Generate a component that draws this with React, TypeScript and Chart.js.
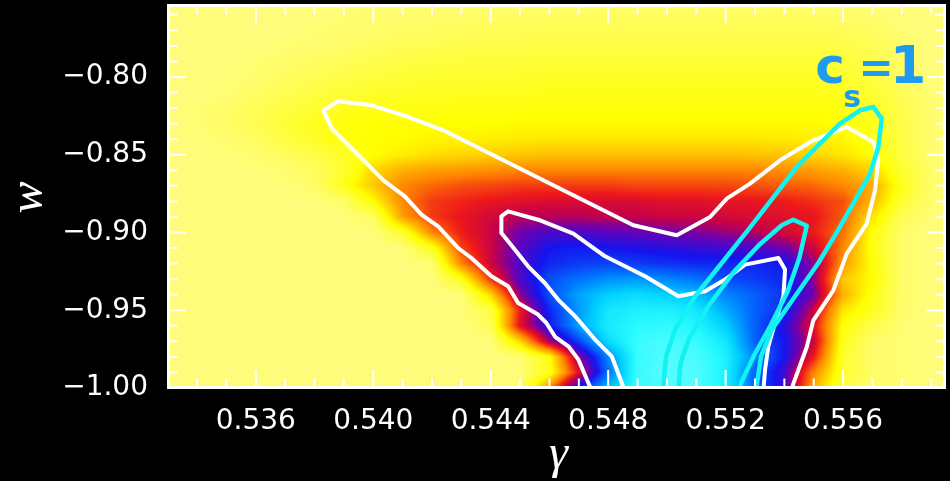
import React, { useEffect, useRef } from "react";
import { Chart, registerables } from "chart.js";

Chart.register(...registerables);

// ---------- axes ----------
const GAMMA_MIN = 0.53301;
const GAMMA_MAX = 0.55947;
const W_MIN = -1.0;
const W_MAX = -0.7537;
const GAMMA_TICKS = [0.536, 0.54, 0.544, 0.548, 0.552, 0.556];
const W_TICKS = [-1.0, -0.95, -0.9, -0.85, -0.8];
const GAMMA_MINOR_STEP = 0.001;
const W_MINOR_STEP = 0.01;

// ---------- density map (grid) ----------
const GRID_GAMMA = [
  0.533, 0.534, 0.535, 0.536, 0.537, 0.538, 0.539, 0.54, 0.541, 0.542, 0.543, 0.544, 0.545, 0.546,
  0.547, 0.548, 0.549, 0.55, 0.551, 0.552, 0.553, 0.554, 0.555, 0.556, 0.557, 0.558, 0.559, 0.56,
];
const GRID_W = [
  -0.75, -0.76, -0.77, -0.78, -0.79, -0.8, -0.81, -0.82, -0.83, -0.84, -0.85, -0.86, -0.87,
  -0.88, -0.89, -0.9, -0.91, -0.92, -0.93, -0.94, -0.95, -0.96, -0.97, -0.98, -0.99, -1.0,
];
const DENSITY = [
  [0.02,0.02,0.02,0.02,0.02,0.02,0.02,0.03,0.03,0.03,0.03,0.03,0.03,0.04,0.04,0.04,0.04,0.04,0.04,0.04,0.04,0.04,0.04,0.03,0.03,0.02,0.02,0.02],
  [0.02,0.02,0.02,0.02,0.02,0.02,0.03,0.035,0.035,0.04,0.04,0.045,0.045,0.05,0.05,0.05,0.05,0.05,0.05,0.05,0.05,0.05,0.05,0.04,0.035,0.025,0.02,0.02],
  [0.02,0.02,0.02,0.02,0.02,0.03,0.035,0.04,0.045,0.05,0.055,0.06,0.06,0.065,0.065,0.065,0.065,0.065,0.065,0.065,0.065,0.065,0.065,0.06,0.05,0.03,0.02,0.02],
  [0.02,0.02,0.02,0.02,0.03,0.035,0.04,0.05,0.06,0.065,0.07,0.075,0.075,0.08,0.08,0.08,0.08,0.08,0.08,0.08,0.08,0.08,0.08,0.075,0.06,0.04,0.02,0.02],
  [0.02,0.02,0.02,0.03,0.04,0.05,0.06,0.07,0.08,0.085,0.09,0.09,0.09,0.095,0.095,0.095,0.095,0.095,0.095,0.095,0.095,0.095,0.095,0.09,0.07,0.04,0.02,0.02],
  [0.02,0.02,0.025,0.035,0.05,0.06,0.075,0.085,0.095,0.1,0.1,0.1,0.105,0.11,0.11,0.11,0.11,0.11,0.11,0.11,0.11,0.11,0.11,0.1,0.08,0.05,0.025,0.02],
  [0.02,0.02,0.03,0.045,0.06,0.08,0.095,0.105,0.11,0.115,0.115,0.12,0.12,0.125,0.125,0.125,0.125,0.125,0.125,0.125,0.125,0.125,0.125,0.12,0.1,0.06,0.03,0.02],
  [0.02,0.03,0.04,0.06,0.08,0.1,0.12,0.13,0.13,0.13,0.135,0.135,0.135,0.14,0.14,0.14,0.14,0.14,0.14,0.14,0.14,0.14,0.14,0.135,0.11,0.07,0.035,0.02],
  [0.02,0.03,0.045,0.065,0.09,0.115,0.135,0.145,0.15,0.15,0.15,0.15,0.155,0.155,0.155,0.155,0.155,0.155,0.155,0.155,0.155,0.155,0.155,0.15,0.12,0.075,0.035,0.02],
  [0.02,0.025,0.035,0.05,0.08,0.11,0.14,0.15,0.155,0.16,0.165,0.17,0.175,0.18,0.18,0.18,0.18,0.18,0.18,0.18,0.18,0.175,0.17,0.16,0.13,0.08,0.035,0.02],
  [0.02,0.02,0.025,0.035,0.05,0.075,0.11,0.15,0.17,0.19,0.2,0.21,0.22,0.23,0.23,0.23,0.23,0.23,0.23,0.23,0.225,0.22,0.2,0.18,0.15,0.08,0.035,0.02],
  [0.02,0.02,0.02,0.025,0.035,0.05,0.1,0.2,0.25,0.27,0.28,0.29,0.3,0.3,0.3,0.3,0.3,0.3,0.3,0.3,0.3,0.29,0.27,0.25,0.2,0.1,0.04,0.02],
  [0.02,0.02,0.02,0.02,0.025,0.04,0.12,0.22,0.3,0.33,0.35,0.36,0.37,0.37,0.37,0.37,0.36,0.36,0.36,0.36,0.35,0.34,0.33,0.3,0.26,0.12,0.04,0.02],
  [0.02,0.02,0.02,0.02,0.02,0.02,0.04,0.15,0.3,0.37,0.39,0.41,0.42,0.43,0.43,0.43,0.43,0.42,0.42,0.41,0.41,0.4,0.38,0.35,0.24,0.1,0.035,0.02],
  [0.02,0.02,0.02,0.02,0.02,0.02,0.02,0.05,0.27,0.37,0.41,0.44,0.47,0.47,0.47,0.46,0.46,0.45,0.45,0.44,0.43,0.42,0.41,0.34,0.18,0.06,0.025,0.02],
  [0.02,0.02,0.02,0.02,0.02,0.02,0.02,0.02,0.1,0.3,0.4,0.45,0.52,0.55,0.55,0.54,0.53,0.52,0.51,0.49,0.47,0.44,0.4,0.32,0.14,0.04,0.02,0.02],
  [0.02,0.02,0.02,0.02,0.02,0.02,0.02,0.02,0.02,0.12,0.36,0.45,0.54,0.6,0.61,0.6,0.59,0.58,0.57,0.56,0.55,0.52,0.45,0.3,0.13,0.04,0.02,0.02],
  [0.02,0.02,0.02,0.02,0.02,0.02,0.02,0.02,0.02,0.03,0.3,0.45,0.55,0.62,0.64,0.65,0.64,0.63,0.62,0.62,0.62,0.6,0.5,0.28,0.14,0.04,0.02,0.02],
  [0.02,0.02,0.02,0.02,0.02,0.02,0.02,0.02,0.02,0.02,0.12,0.38,0.55,0.66,0.7,0.73,0.74,0.72,0.7,0.66,0.64,0.62,0.5,0.22,0.15,0.04,0.02,0.02],
  [0.02,0.02,0.02,0.02,0.02,0.02,0.02,0.02,0.02,0.02,0.02,0.2,0.5,0.66,0.75,0.8,0.82,0.8,0.78,0.72,0.68,0.63,0.52,0.25,0.13,0.04,0.02,0.02],
  [0.02,0.02,0.02,0.02,0.02,0.02,0.02,0.02,0.02,0.02,0.02,0.08,0.4,0.62,0.74,0.84,0.86,0.86,0.84,0.76,0.68,0.62,0.45,0.18,0.12,0.04,0.02,0.02],
  [0.02,0.02,0.02,0.02,0.02,0.02,0.02,0.02,0.02,0.02,0.02,0.06,0.42,0.6,0.75,0.85,0.88,0.89,0.87,0.8,0.68,0.58,0.42,0.14,0.07,0.03,0.02,0.02],
  [0.02,0.02,0.02,0.02,0.02,0.02,0.02,0.02,0.02,0.02,0.02,0.02,0.2,0.48,0.65,0.82,0.9,0.92,0.9,0.84,0.68,0.6,0.45,0.12,0.04,0.03,0.02,0.02],
  [0.02,0.02,0.02,0.02,0.02,0.02,0.02,0.02,0.02,0.02,0.02,0.02,0.03,0.14,0.5,0.72,0.9,0.93,0.92,0.86,0.72,0.6,0.4,0.1,0.04,0.03,0.02,0.02],
  [0.02,0.02,0.02,0.02,0.02,0.02,0.02,0.02,0.02,0.02,0.02,0.02,0.02,0.12,0.42,0.7,0.9,0.94,0.93,0.86,0.68,0.56,0.3,0.1,0.04,0.03,0.02,0.02],
  [0.02,0.02,0.02,0.02,0.02,0.02,0.02,0.02,0.02,0.02,0.02,0.02,0.03,0.3,0.62,0.78,0.9,0.93,0.93,0.86,0.68,0.57,0.25,0.08,0.04,0.03,0.02,0.02],
];

// colour scale (low -> high density)
const CMAP_POS = [0, 0.15, 0.3, 0.4, 0.46, 0.52, 0.6, 0.7, 0.8, 0.88, 1.0];
const CMAP_RGB = [
  [255, 252, 142], [255, 255, 0], [255, 135, 0], [238, 25, 25], [195, 0, 75], [110, 0, 175],
  [20, 20, 238], [0, 115, 255], [0, 210, 255], [40, 250, 255], [140, 255, 255],
];

// ---------- contours (gamma, w) ----------
const WHITE_OUTER: [number, number][] = [
  [0.547435,-1.0015],[0.547326,-0.99678],[0.546985,-0.98174],[0.546645,-0.97318],[0.546192,-0.96707],
  [0.545895,-0.9582],[0.545613,-0.9528],[0.544932,-0.94534],[0.544591,-0.9346],[0.544023,-0.92817],
  [0.543342,-0.9164],[0.542889,-0.90997],[0.542208,-0.89601],[0.541639,-0.88849],[0.541074,-0.87672],
  [0.540345,-0.86643],[0.53978,-0.85569],[0.539211,-0.84502],[0.538588,-0.83318],[0.538302,-0.82142],
  [0.538813,-0.81563],[0.53995,-0.8182],[0.541142,-0.82527],[0.542388,-0.83428],[0.543866,-0.84823],
  [0.545453,-0.86322],[0.547155,-0.87929],[0.548858,-0.89537],[0.550336,-0.9018],[0.55147,-0.89003],
  [0.552038,-0.8782],[0.552832,-0.86855],[0.553853,-0.85357],[0.554987,-0.84071],[0.556125,-0.83215],
  [0.55703,-0.8418],[0.557201,-0.85357],[0.557088,-0.87286],[0.556806,-0.89428],[0.556125,-0.91357],
  [0.555668,-0.93717],[0.554987,-0.95646],[0.554763,-0.97363],[0.554306,-0.99717],[0.554245,-1.0015],
];
const WHITE_INNER: [number, number][] = [
  [0.548555,-1.0015],[0.548463,-0.99678],[0.548122,-0.97961],[0.547554,-0.96887],[0.546873,-0.95389],
  [0.546294,-0.94315],[0.545841,-0.93248],[0.545272,-0.92174],[0.544819,-0.911],[0.544363,-0.90032],
  [0.544363,-0.88958],[0.544591,-0.88637],[0.545681,-0.89215],[0.546815,-0.90071],[0.547894,-0.91531],
  [0.549256,-0.92817],[0.55039,-0.94103],[0.5513,-0.93781],[0.551981,-0.93029],[0.552662,-0.92064],
  [0.553795,-0.9164],[0.554024,-0.92386],[0.553966,-0.94103],[0.553683,-0.9582],[0.553455,-0.97318],
  [0.553342,-0.98817],[0.553285,-1.0015],
];
const CYAN_OUTER: [number, number][] = [
  [0.549886,-1.0015],[0.549886,-0.99678],[0.549971,-0.97961],[0.550278,-0.96244],[0.550959,-0.94103],
  [0.551868,-0.91961],[0.552774,-0.89814],[0.553649,-0.87672],[0.554422,-0.85788],[0.555216,-0.84283],
  [0.555897,-0.82997],[0.556577,-0.82142],[0.55703,-0.81929],[0.557316,-0.82675],[0.557201,-0.84502],
  [0.556918,-0.86212],[0.556407,-0.87929],[0.555839,-0.89814],[0.555158,-0.91961],[0.554364,-0.94103],
  [0.553571,-0.96244],[0.553206,-0.97961],[0.55307,-0.99678],[0.553053,-1.0015],
];
const CYAN_INNER: [number, number][] = [
  [0.550397,-1.0015],[0.550407,-0.99678],[0.550465,-0.98392],[0.550755,-0.96804],[0.551436,-0.94662],
  [0.552287,-0.92514],[0.553138,-0.90804],[0.553921,-0.89518],[0.554306,-0.89183],[0.554763,-0.89569],
  [0.554507,-0.91659],[0.554109,-0.93801],[0.55354,-0.95949],[0.552975,-0.97878],[0.552525,-0.99678],
  [0.552474,-1.0015],
];

// annotation
const CS_LABEL_GAMMA = 0.55556;
const CS_LABEL_W = -0.80405;

function colormap(v: number): number[] {
  if (v <= CMAP_POS[0]) return CMAP_RGB[0];
  for (let k = 1; k < CMAP_POS.length; k++) {
    if (v <= CMAP_POS[k]) {
      const t = (v - CMAP_POS[k - 1]) / (CMAP_POS[k] - CMAP_POS[k - 1]);
      const a = CMAP_RGB[k - 1], b = CMAP_RGB[k];
      return [a[0] + (b[0] - a[0]) * t, a[1] + (b[1] - a[1]) * t, a[2] + (b[2] - a[2]) * t];
    }
  }
  return CMAP_RGB[CMAP_RGB.length - 1];
}

const bgPlugin = {
  id: "bg",
  beforeDraw(chart: any) {
    const { ctx, width, height } = chart;
    ctx.save();
    ctx.fillStyle = "#000";
    ctx.fillRect(0, 0, width, height);
    ctx.restore();
  },
};

const heatmapPlugin = {
  id: "heatmap",
  beforeDatasetsDraw(chart: any) {
    const { ctx, chartArea: a, scales } = chart;
    const xs = scales.x, ys = scales.y;
    const L = Math.floor(a.left), T = Math.floor(a.top);
    const W = Math.ceil(a.right) - L, H = Math.ceil(a.bottom) - T;
    const off = document.createElement("canvas");
    off.width = W; off.height = H;
    const octx = off.getContext("2d")!;
    const img = octx.createImageData(W, H);
    const nx = GRID_GAMMA.length, ny = GRID_W.length;
    const g0 = GRID_GAMMA[0], dg = GRID_GAMMA[1] - GRID_GAMMA[0];
    const w0 = GRID_W[0], dw = GRID_W[1] - GRID_W[0];
    for (let j = 0; j < H; j++) {
      const wv = ys.getValueForPixel(T + j + 0.5);
      let fy = (wv - w0) / dw;
      fy = Math.max(0, Math.min(ny - 1, fy));
      const j0 = Math.min(Math.floor(fy), ny - 2);
      const ty = fy - j0;
      for (let i = 0; i < W; i++) {
        const gv = xs.getValueForPixel(L + i + 0.5);
        let fx = (gv - g0) / dg;
        fx = Math.max(0, Math.min(nx - 1, fx));
        const i0 = Math.min(Math.floor(fx), nx - 2);
        const tx = fx - i0;
        const v =
          DENSITY[j0][i0] * (1 - tx) * (1 - ty) +
          DENSITY[j0][i0 + 1] * tx * (1 - ty) +
          DENSITY[j0 + 1][i0] * (1 - tx) * ty +
          DENSITY[j0 + 1][i0 + 1] * tx * ty;
        const c = colormap(v);
        const p = (j * W + i) * 4;
        img.data[p] = c[0];
        img.data[p + 1] = c[1];
        img.data[p + 2] = c[2];
        img.data[p + 3] = 255;
      }
    }
    octx.putImageData(img, 0, 0);
    ctx.save();
    ctx.drawImage(off, L, T, W, H);
    ctx.restore();
  },
};

const framePlugin = {
  id: "frame",
  afterDatasetsDraw(chart: any) {
    const { ctx, chartArea: a, scales } = chart;
    const xs = scales.x, ys = scales.y;
    ctx.save();
    ctx.strokeStyle = "#ffffff";
    ctx.lineWidth = 2;
    const MAJ = 18, MIN = 9.5;
    const kx0 = Math.ceil(GAMMA_MIN / GAMMA_MINOR_STEP - 1e-6);
    for (let k = kx0; k * GAMMA_MINOR_STEP <= GAMMA_MAX + 1e-9; k++) {
      const v = k * GAMMA_MINOR_STEP;
      const major = GAMMA_TICKS.some((t) => Math.abs(t - v) < 1e-7);
      const len = major ? MAJ : MIN;
      const px = xs.getPixelForValue(v);
      ctx.beginPath();
      ctx.moveTo(px, a.bottom); ctx.lineTo(px, a.bottom - len);
      ctx.moveTo(px, a.top); ctx.lineTo(px, a.top + len);
      ctx.stroke();
    }
    const ky0 = Math.ceil(W_MIN / W_MINOR_STEP - 1e-6);
    for (let k = ky0; k * W_MINOR_STEP <= W_MAX + 1e-9; k++) {
      const v = k * W_MINOR_STEP;
      const major = W_TICKS.some((t) => Math.abs(t - v) < 1e-7);
      const len = major ? MAJ : MIN;
      const py = ys.getPixelForValue(v);
      ctx.beginPath();
      ctx.moveTo(a.left, py); ctx.lineTo(a.left + len, py);
      ctx.moveTo(a.right, py); ctx.lineTo(a.right - len, py);
      ctx.stroke();
    }
    ctx.lineWidth = 3;
    ctx.strokeRect(a.left + 0.5, a.top + 0.5, a.right - a.left - 1, a.bottom - a.top - 1);
    ctx.restore();
  },
  afterDraw(chart: any) {
    const { ctx, chartArea: a, scales } = chart;
    ctx.save();
    // axis titles
    ctx.fillStyle = "#ffffff";
    ctx.font = 'italic 48px "Liberation Serif"';
    ctx.textAlign = "center";
    ctx.textBaseline = "alphabetic";
    ctx.fillText("\u03B3", (a.left + a.right) / 2 + 2, 468);
    ctx.save();
    ctx.translate(42, (a.top + a.bottom) / 2 + 1);
    ctx.rotate(-Math.PI / 2);
    ctx.fillText("w", 0, 0);
    ctx.restore();
    // c_s = 1 label
    const lx = scales.x.getPixelForValue(CS_LABEL_GAMMA);
    const ly = scales.y.getPixelForValue(CS_LABEL_W);
    ctx.fillStyle = "#1e9bf0";
    ctx.font = 'bold 50px "DejaVu Sans"';
    ctx.fillText("c", lx, ly);
    ctx.font = 'bold 30px "DejaVu Sans"';
    ctx.fillText("s", lx + 22, ly + 24);
    ctx.font = 'bold 42px "DejaVu Sans"';
    ctx.fillText("=", lx + 46, ly - 1);
    ctx.font = 'bold 52px "DejaVu Sans"';
    ctx.fillText("1", lx + 78, ly);
    ctx.restore();
  },
};

export default function App() {
  const ref = useRef<HTMLCanvasElement>(null);
  useEffect(() => {
    document.body.style.margin = "0";
    document.body.style.background = "#000";
    const line = (pts: [number, number][], color: string, width: number, order: number) => ({
      data: pts.map((p) => ({ x: p[0], y: p[1] })),
      showLine: true,
      borderColor: color,
      borderWidth: width,
      pointRadius: 0,
      tension: 0,
      clip: 0,
      order,
      borderJoinStyle: "round" as const,
    });
    const chart = new Chart(ref.current!, {
      type: "scatter",
      data: {
        datasets: [
          line(CYAN_OUTER, "#12f2f2", 4.5, 0),
          line(CYAN_INNER, "#12f2f2", 4.5, 0),
          line(WHITE_OUTER, "#ffffff", 4, 1),
          line(WHITE_INNER, "#ffffff", 4, 1),
        ],
      },
      options: {
        animation: false,
        responsive: false,
        devicePixelRatio: 1,
        layout: { padding: { top: 5, right: 5, left: 0, bottom: 0 } },
        plugins: { legend: { display: false }, tooltip: { enabled: false } },
        scales: {
          x: {
            type: "linear",
            min: GAMMA_MIN,
            max: GAMMA_MAX,
            grid: { display: false },
            border: { display: false },
            ticks: {
              color: "#ffffff",
              font: { family: "DejaVu Sans", size: 28 },
              padding: 9,
              autoSkip: false,
              maxRotation: 0,
              callback: (v: any) => Number(v).toFixed(3),
            },
            afterBuildTicks: (s: any) => {
              s.ticks = GAMMA_TICKS.map((v) => ({ value: v }));
            },
            afterFit: (s: any) => {
              s.height = 93;
              s.paddingLeft = 0;
              s.paddingRight = 0;
            },
          },
          y: {
            type: "linear",
            min: W_MIN,
            max: W_MAX,
            grid: { display: false },
            border: { display: false },
            ticks: {
              color: "#ffffff",
              font: { family: "DejaVu Sans", size: 28 },
              padding: 12,
              autoSkip: false,
              callback: (v: any) => (Number(v) < 0 ? "\u2212" : "") + Math.abs(Number(v)).toFixed(2),
            },
            afterBuildTicks: (s: any) => {
              s.ticks = W_TICKS.map((v) => ({ value: v }));
            },
            afterFit: (s: any) => {
              s.width = 168;
              s.paddingTop = 0;
              s.paddingBottom = 0;
            },
          },
        },
      },
      plugins: [bgPlugin, heatmapPlugin, framePlugin],
    });
    return () => chart.destroy();
  }, []);
  return (
    <div style={{ width: 950, height: 481, background: "#000" }}>
      <canvas ref={ref} width={950} height={481} style={{ display: "block", width: 950, height: 481 }} />
    </div>
  );
}
